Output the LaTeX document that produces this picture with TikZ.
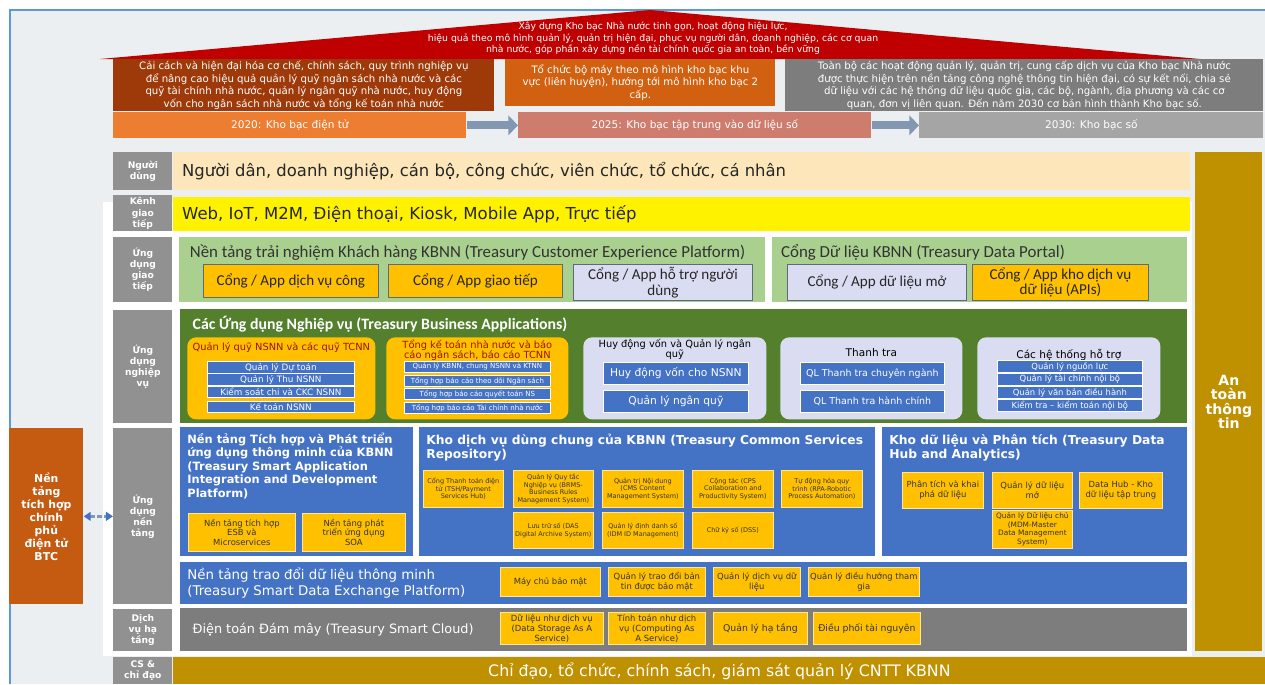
\documentclass[tikz,border=0pt]{standalone}
\usepackage{fontspec}
\setmainfont{DejaVu Sans}
\newfontfamily\cfont{Carlito}
\usetikzlibrary{arrows.meta}

\definecolor{bggray}{RGB}{236,239,242}
\definecolor{frameblue}{RGB}{91,155,213}
\definecolor{roofred}{RGB}{192,0,0}
\definecolor{goalbrown}{RGB}{158,58,10}
\definecolor{goalorange}{RGB}{209,96,17}
\definecolor{goalgray}{RGB}{125,125,125}
\definecolor{tlorange}{RGB}{237,125,49}
\definecolor{tlpink}{RGB}{206,124,110}
\definecolor{tlgray}{RGB}{165,165,165}
\definecolor{arrowgray}{RGB}{132,151,176}
\definecolor{lblgray}{RGB}{145,145,145}
\definecolor{peach}{RGB}{253,230,185}
\definecolor{lgreen}{RGB}{169,208,142}
\definecolor{orangeY}{RGB}{255,192,0}
\definecolor{lav}{RGB}{218,221,242}
\definecolor{dgreen}{RGB}{84,128,46}
\definecolor{kblue}{RGB}{68,114,196}
\definecolor{gold}{RGB}{191,144,0}
\definecolor{sideorange}{RGB}{197,90,17}
\definecolor{boxline}{RGB}{95,105,125}
\definecolor{darkred}{RGB}{150,20,10}

% name, style, x1, y1, x2, y2, text
\newcommand\blk[7]{\node[#2, anchor=north west, minimum width={(#5-#3)*0.02cm}, minimum height={(#6-#4)*0.02cm}] (#1) at (#3,#4) {#7};}

\begin{document}
\begin{tikzpicture}[x=0.02cm, y=-0.02cm,
    every node/.style={inner sep=1pt, align=center},
    lbl/.style={fill=lblgray, text=white, font=\fontsize{5.2}{6.3}\selectfont\bfseries},
    roof/.style={text=white, font=\fontsize{5.3}{6.5}\selectfont},
    goal/.style={text=white, font=\fontsize{5.8}{5.6}\selectfont},
    tl/.style={text=white, font=\fontsize{6}{7}\selectfont},
    tlarrow/.style={draw=arrowgray, line width=4.5pt, -{Triangle[length=5.5pt, width=11pt]}},
    dblarrow/.style={draw=arrowgray, line width=1.6pt, dash pattern=on 2.5pt off 1.5pt,
      {Triangle[length=4pt, width=5pt, color=kblue]}-{Triangle[length=4pt, width=5pt, color=kblue]}},
    bar/.style={anchor=west, text=black!85, font=\fontsize{9.35}{10}\selectfont},
    ttl/.style={anchor=north west, align=left, inner sep=0pt},
    gtxt/.style={text=black!80, font=\cfont\fontsize{9.6}{10}\selectfont},
    obox/.style={fill=orangeY, draw=boxline, line width=0.5pt, text=black!85, font=\cfont\fontsize{8.6}{9}\selectfont},
    lbox/.style={fill=lav, draw=boxline, line width=0.5pt, text=black!85, font=\cfont\fontsize{8.6}{9}\selectfont},
    btitle/.style={text=white, font=\cfont\bfseries\fontsize{9}{10}\selectfont},
    ygroup/.style={fill=orangeY, rounded corners=5pt},
    lgroup/.style={fill=lav, rounded corners=5pt},
    gt/.style={anchor=north, inner sep=0pt, font=\fontsize{5.6}{5.7}\selectfont},
    bitem/.style={fill=kblue, draw=white, line width=0.4pt, text=white},
    ptitle/.style={text=white, font=\fontsize{6.5}{7.7}\selectfont\bfseries},
    sbox/.style={fill=orangeY, draw=white!60!orangeY, line width=0.4pt, text=black!80, font=\fontsize{3.7}{4.4}\selectfont},
    mbox/.style={fill=orangeY, draw=white!60!orangeY, line width=0.4pt, text=black!80, font=\fontsize{4.8}{5.6}\selectfont}]
  \useasboundingbox (0,0) rectangle (1265,684);
  \fill[bggray] (10,10) rectangle (1265,684);
  \draw[frameblue, line width=0.8pt] (10,684) -- (10,10) -- (1265,10);
  \fill[white] (103,202) rectangle (1192,656);

  % vision, goals, roadmap
  \fill[roofred] (100,59) -- (650,10) -- (1200,59) -- cycle;
  \node[roof] (vision) at (653,38.5) {Xây dựng Kho bạc Nhà nước tinh gọn, hoạt động hiệu lực,\\
    hiệu quả theo mô hình quản lý, quản trị hiện đại, phục vụ người dân, doanh nghiệp, các cơ quan\\
    nhà nước, góp phần xây dựng nền tài chính quốc gia an toàn, bền vững};
  \blk{goal1}{goal, fill=goalbrown}{113}{59}{494}{106}{Cải cách và hiện đại hóa cơ chế, chính sách, quy trình nghiệp vụ\\
    để nâng cao hiệu quả quản lý quỹ ngân sách nhà nước và các\\
    quỹ tài chính nhà nước, quản lý ngân quỹ nhà nước, huy động\\
    vốn cho ngân sách nhà nước và tổng kế toán nhà nước}
  \blk{goal2}{goal, fill=goalorange}{505}{59}{775}{106}{Tổ chức bộ máy theo mô hình kho bạc khu\\
    vực (liên huyện), hướng tới mô hình kho bạc 2\\cấp.}
  \blk{goal3}{goal, fill=goalgray}{785}{59}{1263}{106}{Toàn bộ các hoạt động quản lý, quản trị, cung cấp dịch vụ của Kho bạc Nhà nước\\
    được thực hiện trên nền tảng công nghệ thông tin hiện đại, có sự kết nối, chia sẻ\\
    dữ liệu với các hệ thống dữ liệu quốc gia, các bộ, ngành, địa phương và các cơ\\
    quan, đơn vị liên quan. Đến năm 2030 cơ bản hình thành Kho bạc số.}
  \blk{t2020}{tl, fill=tlorange}{113}{112}{466}{138}{2020: Kho bạc điện tử}
  \blk{t2025}{tl, fill=tlpink}{518}{112}{871}{138}{2025: Kho bạc tập trung vào dữ liệu số}
  \blk{t2030}{tl, fill=tlgray}{919}{112}{1263}{138}{2030: Kho bạc số}
  \draw[tlarrow] (t2020) -- (t2025);
  \draw[tlarrow] (t2025) -- (t2030);

  % layer labels
  \blk{lUser}{lbl}{113}{152}{172}{190}{Người\\dùng}
  \blk{lChan}{lbl}{113}{195}{172}{231}{Kênh\\giao\\tiếp}
  \blk{lFront}{lbl}{113}{237}{172}{302}{Ứng\\dụng\\giao\\tiếp}
  \blk{lBiz}{lbl}{113}{310}{172}{423}{Ứng\\dụng\\nghiệp\\vụ}
  \blk{lPlat}{lbl}{113}{428}{172}{604}{Ứng\\dụng\\nền\\tảng}
  \blk{lInfra}{lbl}{113}{609}{172}{651}{Dịch\\vụ hạ\\tầng}
  \blk{lGov}{lbl}{113}{657}{172}{684}{CS \&\\chỉ đạo}

  % users, channels, security
  \blk{users}{fill=peach}{173}{152}{1190}{190}{}
  \node[bar] (usersT) at ([xshift=4pt]users.west) {Người dân, doanh nghiệp, cán bộ, công chức, viên chức, tổ chức, cá nhân};
  \blk{chan}{fill=yellow}{173}{197}{1190}{231}{}
  \node[bar, font=\fontsize{9.4}{10}\selectfont] (chanT) at ([xshift=4pt]chan.west) {Web, IoT, M2M, Điện thoại, Kiosk, Mobile App, Trực tiếp};
  \blk{safety}{fill=gold, text=white, font=\fontsize{8}{8.2}\selectfont\bfseries}{1195}{152}{1262}{651}{An\\toàn\\thông\\tin}

  % front-end apps
  \blk{cxp}{fill=lgreen}{179}{237}{765}{302}{}
  \node[ttl, gtxt] (cxpT) at ([shift={(6pt,-4pt)}]cxp.north west) {Nền tảng trải nghiệm Khách hàng KBNN (Treasury Customer Experience Platform)};
  \blk{fA}{obox}{203}{264}{378}{297}{Cổng / App dịch vụ công}
  \blk{fB}{obox}{388}{264}{562}{297}{Cổng / App giao tiếp}
  \blk{fC}{lbox}{573}{264}{752}{300}{Cổng / App hỗ trợ người\\dùng}
  \blk{tdp}{fill=lgreen}{772}{237}{1187}{302}{}
  \node[ttl, gtxt] (tdpT) at ([shift={(5pt,-4pt)}]tdp.north west) {Cổng Dữ liệu KBNN (Treasury Data Portal)};
  \blk{fD}{lbox}{787}{264}{966}{300}{Cổng / App dữ liệu mở}
  \blk{fE}{obox}{972}{264}{1148}{300}{Cổng / App kho dịch vụ\\dữ liệu (APIs)}

  % business applications
  \blk{biz}{fill=dgreen}{180}{309}{1187}{423}{}
  \node[ttl, btitle] (bizT) at ([shift={(7pt,-4pt)}]biz.north west) {Các Ứng dụng Nghiệp vụ (Treasury Business Applications)};
  \blk{g1}{ygroup}{187}{337}{375}{419}{}
  \node[gt, text=darkred] (g1T) at ([yshift=-3pt]g1.north) {Quản lý quỹ NSNN và các quỹ TCNN};
  \blk{g1a}{bitem, font=\fontsize{5}{5}\selectfont}{207}{361}{354}{371}{Quản lý Dự toán}
  \blk{g1b}{bitem, font=\fontsize{5}{5}\selectfont}{207}{373}{354}{383}{Quản lý Thu NSNN}
  \blk{g1c}{bitem, font=\fontsize{5}{5}\selectfont}{207}{386}{354}{396}{Kiểm soát chi và CKC NSNN}
  \blk{g1d}{bitem, font=\fontsize{5}{5}\selectfont}{207}{401}{354}{412}{Kế toán NSNN}
  \blk{g2}{ygroup}{386}{337}{568}{419}{}
  \node[gt, text=darkred] (g2T) at ([yshift=-1.5pt]g2.north) {Tổng kế toán nhà nước và báo\\cáo ngân sách, báo cáo TCNN};
  \blk{g2a}{bitem, font=\fontsize{4}{4}\selectfont}{404}{361}{550}{372}{Quản lý KBNN, chung NSNN và KTNN}
  \blk{g2b}{bitem, font=\fontsize{4}{4}\selectfont}{404}{375}{550}{385}{Tổng hợp báo cáo theo dõi Ngân sách}
  \blk{g2c}{bitem, font=\fontsize{4}{4}\selectfont}{404}{388}{550}{398}{Tổng hợp báo cáo quyết toán NS}
  \blk{g2d}{bitem, font=\fontsize{4}{4}\selectfont}{404}{402}{550}{412}{Tổng hợp báo cáo Tài chính nhà nước}
  \blk{g3}{lgroup}{583}{337}{766}{419}{}
  \node[gt] (g3T) at ([yshift=-1.2pt]g3.north) {Huy động vốn và Quản lý ngân\\quỹ};
  \blk{g3a}{bitem, font=\fontsize{6.1}{6.2}\selectfont}{603}{362}{748}{384}{Huy động vốn cho NSNN}
  \blk{g3b}{bitem, font=\fontsize{6.1}{6.2}\selectfont}{603}{390}{748}{412}{Quản lý ngân quỹ}
  \blk{g4}{lgroup}{780}{337}{962}{419}{}
  \node[gt, font=\fontsize{6}{6}\selectfont] (g4T) at ([yshift=-6.5pt]g4.north) {Thanh tra};
  \blk{g4a}{bitem, font=\fontsize{5.4}{6}\selectfont}{800}{362}{944}{384}{QL Thanh tra chuyên ngành}
  \blk{g4b}{bitem, font=\fontsize{5.4}{6}\selectfont}{800}{390}{944}{412}{QL Thanh tra hành chính}
  \blk{g5}{lgroup}{977}{337}{1160}{419}{}
  \node[gt, font=\fontsize{6}{6}\selectfont] (g5T) at ([yshift=-6.5pt]g5.north) {Các hệ thống hỗ trợ};
  \blk{g5a}{bitem, font=\fontsize{4.8}{5}\selectfont}{997}{360}{1142}{370}{Quản lý nguồn lực}
  \blk{g5b}{bitem, font=\fontsize{4.8}{5}\selectfont}{997}{373}{1142}{383}{Quản lý tài chính nội bộ}
  \blk{g5c}{bitem, font=\fontsize{4.8}{5}\selectfont}{997}{386}{1142}{396}{Quản lý văn bản điều hành}
  \blk{g5d}{bitem, font=\fontsize{4.8}{5}\selectfont}{997}{399}{1142}{410}{Kiểm tra -- kiểm toán nội bộ}

  % platform applications
  \blk{sadp}{fill=kblue}{180}{427}{413}{556}{}
  \node[ttl, ptitle] (sadpT) at ([shift={(4pt,-3pt)}]sadp.north west) {Nền tảng Tích hợp và Phát triển\\ứng dụng thông minh của KBNN\\(Treasury Smart Application\\Integration and Development\\Platform)};
  \blk{esb}{mbox}{188}{513}{295}{551}{Nền tảng tích hợp\\ESB và\\Microservices}
  \blk{soa}{mbox}{302}{513}{405}{551}{Nền tảng phát\\triển ứng dụng\\SOA}
  \blk{tcsr}{fill=kblue}{419}{427}{875}{556}{}
  \node[ttl, ptitle, font=\fontsize{7}{8}\selectfont\bfseries] (tcsrT) at ([shift={(4pt,-4pt)}]tcsr.north west) {Kho dịch vụ dùng chung của KBNN (Treasury Common Services\\Repository)};
  \blk{s1}{sbox}{423}{470}{503}{507}{Cổng Thanh toán điện\\tử (TSH/Payment\\Services Hub)}
  \blk{s2}{sbox}{513}{470}{593}{507}{Quản lý Quy tắc\\Nghiệp vụ (BRMS-\\Business Rules\\Management System)}
  \blk{s3}{sbox}{602}{470}{683}{507}{Quản trị Nội dung\\(CMS Content\\Management System)}
  \blk{s4}{sbox}{692}{470}{773}{507}{Cộng tác (CPS\\Collaboration and\\Productivity System)}
  \blk{s5}{sbox}{781}{470}{862}{507}{Tự động hóa quy\\trình (RPA-Robotic\\Process Automation)}
  \blk{s6}{sbox}{513}{512}{593}{548}{Lưu trữ số (DAS\\Digital Archive System)}
  \blk{s7}{sbox}{602}{512}{683}{548}{Quản lý định danh số\\(IDM ID Management)}
  \blk{s8}{sbox}{692}{512}{773}{548}{Chữ ký số (DSS)}
  \blk{tdh}{fill=kblue}{882}{427}{1187}{556}{}
  \node[ttl, ptitle, font=\fontsize{7}{8}\selectfont\bfseries] (tdhT) at ([shift={(4pt,-4pt)}]tdh.north west) {Kho dữ liệu và Phân tích (Treasury Data\\Hub and Analytics)};
  \blk{dh1}{mbox}{902}{472}{983}{508}{Phân tích và khai\\phá dữ liệu}
  \blk{dh2}{mbox}{992}{472}{1072}{508}{Quản lý dữ liệu\\mở}
  \blk{dh3}{mbox}{1079}{472}{1162}{508}{Data Hub - Kho\\dữ liệu tập trung}
  \blk{dh4}{sbox, font=\fontsize{4.2}{4.8}\selectfont}{992}{510}{1072}{548}{Quản lý Dữ liệu chủ\\(MDM-Master\\Data Management\\System)}
  \blk{sdx}{fill=kblue}{180}{562}{1187}{604}{}
  \node[anchor=west, align=left, text=white, font=\fontsize{7.6}{9}\selectfont] (sdxT) at ([xshift=3pt]sdx.west) {Nền tảng trao đổi dữ liệu thông minh\\(Treasury Smart Data Exchange Platform)};
  \blk{x1}{mbox}{500}{567}{600}{596}{Máy chủ bảo mật}
  \blk{x2}{mbox}{608}{567}{705}{596}{Quản lý trao đổi bản\\tin được bảo mật}
  \blk{x3}{mbox}{713}{567}{800}{596}{Quản lý dịch vụ dữ\\liệu}
  \blk{x4}{mbox}{808}{567}{895}{596}{Quản lý điều hướng tham\\gia}
  \blk{egov}{fill=sideorange, text=white, font=\fontsize{6.2}{7.4}\selectfont\bfseries}{9}{428}{83}{604}{Nền\\tảng\\tích hợp\\chính\\phủ\\điện tử\\BTC}
  \draw[dblarrow] (egov) -- (lPlat);

  % infrastructure, governance
  \blk{cloud}{fill=goalgray}{180}{608}{1187}{651}{}
  \node[anchor=west, text=white, font=\fontsize{7.3}{8}\selectfont] (cloudT) at ([xshift=6pt]cloud.west) {Điện toán Đám mây (Treasury Smart Cloud)};
  \blk{c1}{mbox}{500}{612}{603}{644}{Dữ liệu như dịch vụ\\(Data Storage As A\\Service)}
  \blk{c2}{mbox}{608}{612}{705}{644}{Tính toán như dịch\\vụ (Computing As\\A Service)}
  \blk{c3}{mbox, font=\fontsize{5.3}{6}\selectfont}{713}{612}{807}{644}{Quản lý hạ tầng}
  \blk{c4}{mbox, font=\fontsize{5.3}{6}\selectfont}{813}{612}{920}{644}{Điều phối tài nguyên}
  \blk{gov}{fill=gold, text=white, font=\fontsize{9}{10}\selectfont}{173}{657}{1265}{684}{Chỉ đạo, tổ chức, chính sách, giám sát quản lý CNTT KBNN}
\end{tikzpicture}
\end{document}
